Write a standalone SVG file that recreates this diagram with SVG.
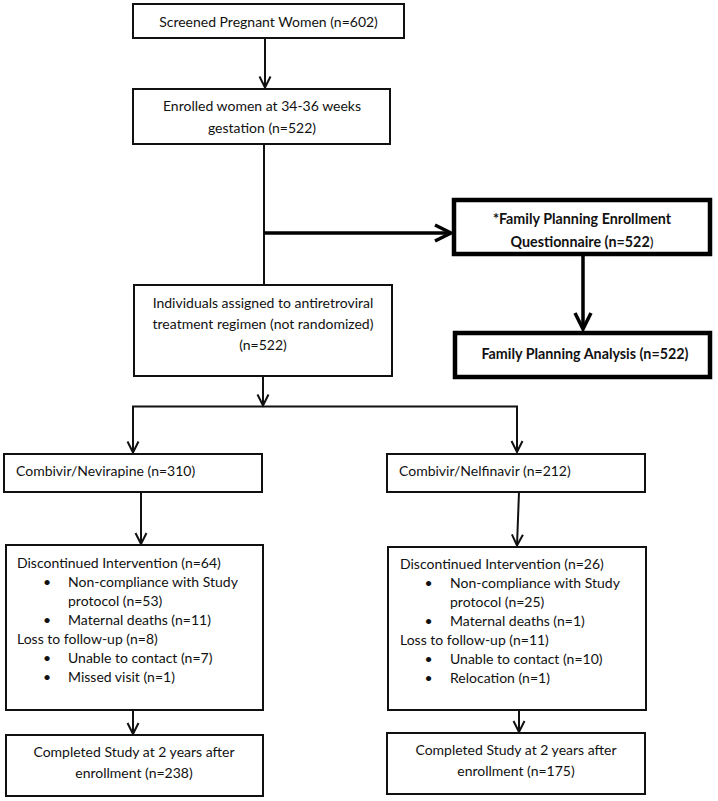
<svg xmlns="http://www.w3.org/2000/svg" width="718" height="801" viewBox="0 0 718 801">
<style>
  text { font-family: Lato, "Open Sans", "Liberation Sans", sans-serif; font-size: 14px; fill: #111; dominant-baseline: central; }
  .c { text-anchor: middle; }
  .b { font-weight: bold; font-size: 14.3px; }
  .box { fill: #fff; stroke: #111; stroke-width: 2; }
  .tbox { fill: #fff; stroke: #000; stroke-width: 4.5; }
  .ln { fill: none; stroke: #111; stroke-width: 2; }
  .tln { fill: none; stroke: #000; stroke-width: 3.5; }
</style>
<defs>
  <marker id="ah" markerUnits="userSpaceOnUse" viewBox="-13 -8 15 16" markerWidth="15" markerHeight="16" refX="0" refY="0" orient="auto">
    <path d="M-11,-5.5 L0,0 L-11,5.5" fill="none" stroke="#111" stroke-width="2"/>
  </marker>
  <marker id="tah" markerUnits="userSpaceOnUse" viewBox="-20 -11 24 22" markerWidth="24" markerHeight="22" refX="0" refY="0" orient="auto">
    <path d="M-16,-8 L0,0 L-16,8" fill="none" stroke="#000" stroke-width="3.5"/>
  </marker>
</defs>
<rect width="718" height="801" fill="#fff"/>
<g id="connectors">
  <line class="ln" x1="265" y1="38" x2="265" y2="87.5" marker-end="url(#ah)"/>
  <line class="ln" x1="264" y1="144" x2="264" y2="285"/>
  <line class="tln" x1="264" y1="233" x2="451" y2="233" marker-end="url(#tah)"/>
  <line class="tln" x1="583" y1="254" x2="583" y2="329" marker-end="url(#tah)"/>
  <line class="ln" x1="263" y1="376" x2="263" y2="405.5" marker-end="url(#ah)"/>
  <polyline class="ln" points="133,453 133,406.5 517,406.5 517,452"/>
  <line class="ln" x1="133" y1="440" x2="133" y2="452.5" marker-end="url(#ah)"/>
  <line class="ln" x1="517" y1="440" x2="517" y2="452" marker-end="url(#ah)"/>
  <line class="ln" x1="141" y1="492" x2="141" y2="544" marker-end="url(#ah)"/>
  <line class="ln" x1="519" y1="492" x2="517" y2="545.5" marker-end="url(#ah)"/>
  <line class="ln" x1="133" y1="710" x2="133" y2="734" marker-end="url(#ah)"/>
  <line class="ln" x1="519" y1="710" x2="519" y2="732" marker-end="url(#ah)"/>
</g>
<g id="screened">
  <rect class="box" x="133" y="4" width="271" height="34"/>
  <text class="c" x="268.5" y="21">Screened Pregnant Women (n=602)</text>
</g>
<g id="enrolled">
  <rect class="box" x="133" y="89" width="257" height="55"/>
  <text class="c" x="262" y="105">Enrolled women at 34-36 weeks</text>
  <text class="c" x="262" y="127">gestation (n=522)</text>
</g>
<g id="assigned">
  <rect class="box" x="134" y="285" width="258" height="91"/>
  <text class="c" x="263" y="302">Individuals assigned to antiretroviral</text>
  <text class="c" x="263" y="323">treatment regimen (not randomized)</text>
  <text class="c" x="263" y="344">(n=522)</text>
</g>
<g id="fp-enrollment">
  <rect class="tbox" x="454" y="200" width="256" height="54"/>
  <text class="c b" x="582" y="218">*Family Planning Enrollment</text>
  <text class="c b" x="582" y="241">Questionnaire (n=522<tspan font-weight="normal">)</tspan></text>
</g>
<g id="fp-analysis">
  <rect class="tbox" x="455" y="333" width="255" height="44"/>
  <text class="c b" x="585" y="353">Family Planning Analysis (n=522)</text>
</g>
<g id="nevirapine">
  <rect class="box" x="4" y="454" width="258" height="38"/>
  <text x="16" y="470">Combivir/Nevirapine (n=310)</text>
</g>
<g id="nelfinavir">
  <rect class="box" x="387" y="454" width="258" height="38"/>
  <text x="399" y="470">Combivir/Nelfinavir (n=212)</text>
</g>
<g id="disc-left">
  <rect class="box" x="6" y="545" width="257" height="165"/>
  <text x="17" y="562">Discontinued Intervention (n=64)</text>
  <text x="47" y="581.5" class="c">•</text>
  <text x="68" y="581.5">Non-compliance with Study</text>
  <text x="68" y="600.5">protocol (n=53)</text>
  <text x="47" y="619.5" class="c">•</text>
  <text x="68" y="619.5">Maternal deaths (n=11)</text>
  <text x="17" y="638.5">Loss to follow-up (n=8)</text>
  <text x="47" y="657.5" class="c">•</text>
  <text x="68" y="657.5">Unable to contact (n=7)</text>
  <text x="47" y="676.5" class="c">•</text>
  <text x="68" y="676.5">Missed visit (n=1)</text>
</g>
<g id="disc-right">
  <rect class="box" x="388" y="547" width="258" height="163"/>
  <text x="400" y="563">Discontinued Intervention (n=26)</text>
  <text x="428.5" y="582.5" class="c">•</text>
  <text x="450" y="582.5">Non-compliance with Study</text>
  <text x="450" y="601.5">protocol (n=25)</text>
  <text x="428.5" y="620.5" class="c">•</text>
  <text x="450" y="620.5">Maternal deaths (n=1)</text>
  <text x="400" y="639.5">Loss to follow-up (n=11)</text>
  <text x="428.5" y="658.5" class="c">•</text>
  <text x="450" y="658.5">Unable to contact (n=10)</text>
  <text x="428.5" y="677.5" class="c">•</text>
  <text x="450" y="677.5">Relocation (n=1)</text>
</g>
<g id="completed-left">
  <rect class="box" x="6" y="735" width="257" height="61"/>
  <text class="c" x="134" y="751">Completed Study at 2 years after</text>
  <text class="c" x="134" y="772">enrollment (n=238)</text>
</g>
<g id="completed-right">
  <rect class="box" x="387" y="733" width="258" height="61"/>
  <text class="c" x="516" y="749.5">Completed Study at 2 years after</text>
  <text class="c" x="516" y="770">enrollment (n=175)</text>
</g>
</svg>
